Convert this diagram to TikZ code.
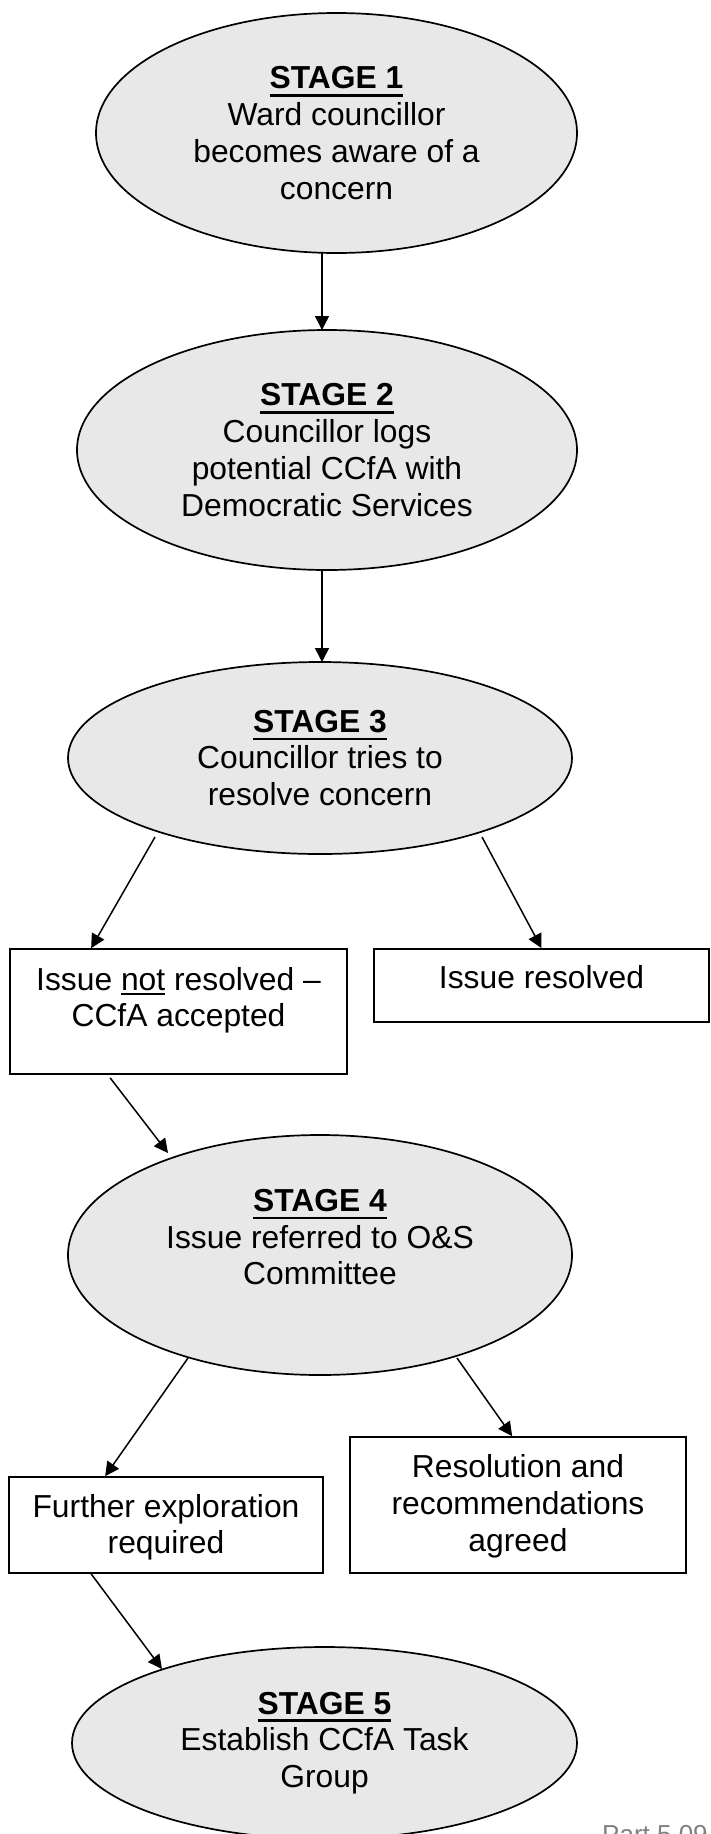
\documentclass[tikz,border=0pt]{standalone}
\usepackage{fontspec}
\setmainfont{Liberation Sans}
\usetikzlibrary{shapes.geometric,arrows.meta}
\definecolor{ellfill}{RGB}{232,232,232}
\definecolor{footgrey}{RGB}{128,128,128}
\newcommand\bodyfont{\fontsize{31.8}{36.7}\selectfont}
\newcommand\myul[1]{\leavevmode\vtop{\hbox{#1}\kern5pt\hrule height 2.6pt}}
\newcommand\myulthin[1]{\leavevmode\vtop{\hbox{#1}\kern3pt\hrule height 1.8pt}}
\newcommand\stagehead[1]{\textbf{\myul{#1}}}
\begin{document}
\begin{tikzpicture}[x=1pt,y=-1pt,
  stage/.style={ellipse, draw, line width=1.7pt, fill=ellfill, inner sep=0pt, align=center, font=\bodyfont},
  infobox/.style={rectangle, draw, line width=1.7pt, inner sep=0pt, align=center, font=\bodyfont},
  arr/.style={line width=1.5pt, -{Triangle[length=14pt,width=14pt]}}]
\fill[white] (0,0) rectangle (710,1834);
\useasboundingbox (0,0) rectangle (710,1834);

\node[stage, minimum width=481pt, minimum height=240pt] (e1) at (336.5,133)
  {\stagehead{STAGE 1}\\Ward councillor\\becomes aware of a\\concern};
\node[stage, minimum width=500pt, minimum height=240pt] (e2) at (327,450)
  {\stagehead{STAGE 2}\\Councillor logs\\potential CCfA with\\Democratic Services};
\node[stage, minimum width=504pt, minimum height=192pt] (e3) at (320,758)
  {\stagehead{STAGE 3}\\Councillor tries to\\resolve concern};
\node[stage, minimum width=504pt, minimum height=240pt, text depth=36pt] (e4) at (320,1255)
  {\stagehead{STAGE 4}\\Issue referred to O\&S\\Committee};
\node[stage, minimum width=505pt, minimum height=192pt] (e5) at (324.5,1743)
  {\stagehead{STAGE 5}\\Establish CCfA Task\\Group};

\node[infobox, minimum width=337pt, minimum height=125pt, text depth=29pt] (ba) at (178.5,1011.5)
  {Issue \myulthin{not} resolved --\\CCfA accepted};
\node[infobox, minimum width=335pt, minimum height=73pt, text depth=17.7pt] (bb) at (541.5,985.5)
  {Issue resolved};
\node[infobox, minimum width=314pt, minimum height=96pt, text depth=2pt] (bc) at (166,1525)
  {Further exploration\\required};
\node[infobox, minimum width=336pt, minimum height=136pt, text depth=3.7pt] (bd) at (518,1505)
  {Resolution and\\recommendations\\agreed};

\node[anchor=north west, inner sep=0pt, text=footgrey, font=\fontsize{26}{30}\selectfont] (foot) at (602,1825) {Part 5.09};

\draw[arr] ([shift={(-14.5,120)}]e1.center) -- ([shift={(-5,-120)}]e2.center);
\draw[arr] ([shift={(-5,120)}]e2.center) -- ([shift={(2,-96)}]e3.center);
\draw[arr] ([shift={(-165,79)}]e3.center) -- ([shift={(82,0)}]ba.north west);
\draw[arr] ([shift={(162,79)}]e3.center) -- (bb.north);
\draw[arr] ([shift={(101,3)}]ba.south west) -- ([shift={(-152,-102)}]e4.center);
\draw[arr] ([shift={(-132,103)}]e4.center) -- ([shift={(97,0)}]bc.north west);
\draw[arr] ([shift={(137,103)}]e4.center) -- ([shift={(163,0)}]bd.north west);
\draw[arr] ([shift={(83,0)}]bc.south west) -- ([shift={(-162.5,-74)}]e5.center);
\end{tikzpicture}
\end{document}
